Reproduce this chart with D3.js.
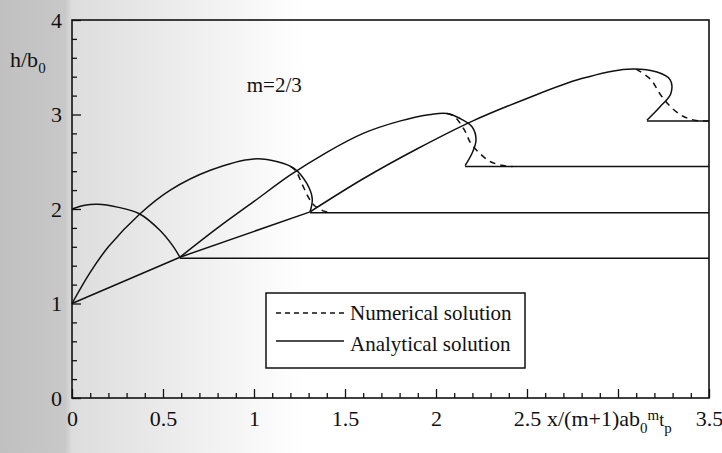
<!DOCTYPE html>
<html>
<head>
<meta charset="utf-8">
<script src="https://cdn.jsdelivr.net/npm/d3@7"></script>
<style>
body { margin: 0; background: #fff; }
svg { display: block; }
text { font-family: "Liberation Serif", "Times New Roman", serif; fill: #111; }
</style>
</head>
<body>
<script>
// Configuration
var width = 722;
var height = 453;
var margin = {top: 20, right: 13, bottom: 55, left: 72};
var lineWidth = 1.5;

// Axes
var xMajorTicks = [0, 0.5, 1, 1.5, 2, 2.5, 3, 3.5];
var xTickLabels = ['0', '0.5', '1', '1.5', '2', '2.5', '', '3.5'];
var yMajorTicks = [0, 1, 2, 3, 4];
var yTickLabels = ['0', '1', '2', '3', '4'];

// Analytical solution (solid)
var arcOne = [[0, 2.0], [0.07, 2.04], [0.14, 2.05], [0.25, 2.02], [0.37, 1.95], [0.48, 1.78], [0.55, 1.62], [0.593, 1.49]];
var lineOne = [[0, 1], [0.593, 1.49]];
var humpOne = [[0, 1], [0.1, 1.33], [0.2, 1.6], [0.374, 1.95], [0.54, 2.2], [0.76, 2.41], [1.0, 2.53],
    [1.13, 2.5], [1.22, 2.43], [1.29, 2.27], [1.32, 2.11], [1.308, 1.97]];
var lineTwo = [[0.593, 1.49], [1.308, 1.97]];
var humpTwo = [[0.593, 1.49], [0.8, 1.8], [1.0, 2.08], [1.2, 2.36], [1.4, 2.6], [1.6, 2.8], [1.8, 2.93],
    [1.97, 3.0], [2.06, 3.01], [2.13, 2.96], [2.198, 2.87], [2.22, 2.73], [2.198, 2.59], [2.16, 2.46]];
var humpThree = [[1.308, 1.97], [1.6, 2.32], [1.9, 2.64], [2.2, 2.93], [2.5, 3.17], [2.8, 3.38], [3.05, 3.48],
    [3.214, 3.45], [3.286, 3.37], [3.29, 3.22], [3.23, 3.08], [3.159, 2.94]];
var flatOne = [[0.593, 1.48], [3.5, 1.48]];
var flatTwo = [[1.308, 1.96], [3.5, 1.96]];
var flatThree = [[2.16, 2.45], [3.5, 2.45]];
var flatFour = [[3.159, 2.93], [3.5, 2.93]];

// Numerical solution (dashed)
var numOne = [[1.2, 2.45], [1.23, 2.40], [1.27, 2.24], [1.30, 2.12], [1.33, 2.04], [1.38, 1.98], [1.43, 1.96]];
var numTwo = [[2.06, 3.01], [2.10, 2.98], [2.155, 2.84], [2.19, 2.70], [2.24, 2.59], [2.30, 2.50], [2.37, 2.46], [2.42, 2.45]];
var numThree = [[3.10, 3.48], [3.18, 3.37], [3.23, 3.22], [3.28, 3.10], [3.35, 2.99], [3.42, 2.94], [3.5, 2.93]];

var analytical = [arcOne, lineOne, humpOne, lineTwo, humpTwo, humpThree, flatOne, flatTwo, flatThree, flatFour];
var numerical = [numOne, numTwo, numThree];

var svg = d3.select('body').append('svg')
    .attr('width', width)
    .attr('height', height);

// scanned paper shading on the left
var grad = svg.append('defs').append('linearGradient')
    .attr('id', 'paper')
    .attr('x1', 0).attr('x2', 1).attr('y1', 0).attr('y2', 0);
[[0, '#c0c0c0'], [0.09, '#c8c8c8'], [0.1, '#dddddd'], [0.28, '#f0f0f0'], [0.42, '#ffffff'], [1, '#ffffff']]
    .forEach(function(s) {
        grad.append('stop').attr('offset', s[0]).attr('stop-color', s[1]);
    });
svg.append('rect')
    .attr('width', width)
    .attr('height', height)
    .attr('fill', 'url(#paper)');

var x = d3.scaleLinear().domain([0, 3.5]).range([margin.left, width - margin.right]);
var y = d3.scaleLinear().domain([0, 4]).range([height - margin.bottom, margin.top]);

var xMinor = d3.range(0, 3.51, 0.1).filter(function(v) { return Math.abs(v * 2 - Math.round(v * 2)) > 1e-6; });
var yMinor = d3.range(0, 4.01, 0.2).filter(function(v) { return Math.abs(v - Math.round(v)) > 1e-6; });

// minor ticks
svg.append('g')
    .attr('transform', 'translate(0,' + y(0) + ')')
    .call(d3.axisBottom(x).tickValues(xMinor).tickSizeInner(-5).tickSizeOuter(0).tickFormat(''));
svg.append('g')
    .attr('transform', 'translate(' + x(0) + ',0)')
    .call(d3.axisLeft(y).tickValues(yMinor).tickSizeInner(-5).tickSizeOuter(0).tickFormat(''));

// major ticks with labels
var xAxis = svg.append('g')
    .attr('transform', 'translate(0,' + y(0) + ')')
    .call(d3.axisBottom(x).tickValues(xMajorTicks).tickSizeInner(-9).tickSizeOuter(0)
        .tickFormat(function(d, i) { return xTickLabels[i]; }));
xAxis.selectAll('text').attr('y', 28).attr('dy', 0);

var yAxis = svg.append('g')
    .attr('transform', 'translate(' + x(0) + ',0)')
    .call(d3.axisLeft(y).tickValues(yMajorTicks).tickSizeInner(-9).tickSizeOuter(0).tickPadding(10)
        .tickFormat(function(d, i) { return yTickLabels[i]; }));

svg.selectAll('.tick line').attr('stroke', '#111').attr('stroke-width', 1.3);
svg.selectAll('.domain').attr('stroke', 'none');
svg.selectAll('.tick text').attr('font-size', 22).attr('font-family', '"Liberation Serif", serif').attr('fill', '#111');

// frame
svg.append('rect')
    .attr('x', x(0))
    .attr('y', y(4))
    .attr('width', x(3.5) - x(0))
    .attr('height', y(0) - y(4))
    .attr('fill', 'none')
    .attr('stroke', '#111')
    .attr('stroke-width', 1.6);

var line = d3.line()
    .x(function(d) { return x(d[0]); })
    .y(function(d) { return y(d[1]); })
    .curve(d3.curveCatmullRom.alpha(0.5));

svg.append('g').selectAll('path')
    .data(analytical)
    .enter()
    .append('path')
    .attr('d', line)
    .attr('fill', 'none')
    .attr('stroke', '#111')
    .attr('stroke-width', lineWidth);

svg.append('g').selectAll('path')
    .data(numerical)
    .enter()
    .append('path')
    .attr('d', line)
    .attr('fill', 'none')
    .attr('stroke', '#111')
    .attr('stroke-width', lineWidth)
    .attr('stroke-dasharray', '6,5');

// axis titles
var yTitle = svg.append('text')
    .attr('x', 10)
    .attr('y', 67)
    .attr('font-size', 22);
yTitle.append('tspan').text('h/b');
yTitle.append('tspan').attr('dy', 6).attr('font-size', 15).text('0');

var xTitle = svg.append('text')
    .attr('x', 547)
    .attr('y', 426)
    .attr('font-size', 22);
xTitle.append('tspan').text('x/(m+1)ab');
xTitle.append('tspan').attr('dy', 7).attr('font-size', 15).text('0');
xTitle.append('tspan').attr('dy', -13).attr('font-size', 15).text('m');
xTitle.append('tspan').attr('dy', 6).attr('font-size', 18).text('t');
xTitle.append('tspan').attr('dy', 7).attr('font-size', 15).text('p');

// annotation
svg.append('text')
    .attr('x', x(0.96))
    .attr('y', y(3.24))
    .attr('font-size', 21)
    .text('m=2/3');

// legend
var legend = svg.append('g').attr('transform', 'translate(266,293)');
legend.append('rect')
    .attr('width', 259)
    .attr('height', 75)
    .attr('fill', '#fff')
    .attr('stroke', '#111')
    .attr('stroke-width', 1.5);
legend.append('line')
    .attr('x1', 10).attr('x2', 78).attr('y1', 20).attr('y2', 20)
    .attr('stroke', '#111').attr('stroke-width', 1.3).attr('stroke-dasharray', '5,4');
legend.append('line')
    .attr('x1', 10).attr('x2', 78).attr('y1', 48).attr('y2', 48)
    .attr('stroke', '#111').attr('stroke-width', 1.3);
legend.append('text').attr('x', 84).attr('y', 27).attr('font-size', 21).text('Numerical solution');
legend.append('text').attr('x', 84).attr('y', 58).attr('font-size', 21).text('Analytical solution');
</script>
</body>
</html>
